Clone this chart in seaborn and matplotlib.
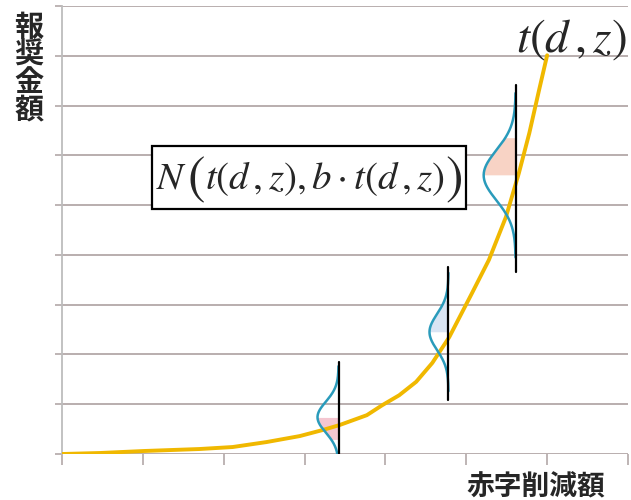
import numpy as np
import pandas as pd
import matplotlib.pyplot as plt
import seaborn as sns
from matplotlib.offsetbox import TextArea, HPacker, AnnotationBbox

# Curve t(d, z)
curve_x = [0.0, 0.47, 1.01, 1.70, 2.11, 2.53, 2.94, 3.22, 3.43, 3.77, 3.96, 4.17,
           4.38, 4.58, 4.79, 5.07, 5.28, 5.49, 5.65, 5.78, 5.90, 6.0]
curve_y = [0.0, 0.02, 0.06, 0.10, 0.14, 0.24, 0.36, 0.48, 0.58, 0.78, 0.98, 1.18,
           1.45, 1.83, 2.35, 3.23, 3.90, 4.76, 5.64, 6.45, 7.31, 8.01]

# Three normal distributions drawn sideways
dist_x = [3.42, 4.78, 5.61]
dist_mean = [0.74, 2.45, 5.6]
dist_sigma = [0.31, 0.36, 0.5]
dist_width = [0.26, 0.235, 0.395]
line_lo = [-0.38, 1.08, 3.65]
line_hi = [1.85, 3.76, 7.41]
fill_lo = [0.29, 2.45, 5.6]
fill_hi = [0.74, 3.09, 6.36]
fill_colors = ['#f4c6d0', '#d9e4f3', '#f8d3c5']

x_ticks = list(range(0, 8))
y_ticks = list(range(0, 10))

sns.set_style('white')
plt.rcParams['font.family'] = ['Noto Sans CJK JP', 'DejaVu Sans']
plt.rcParams['mathtext.fontset'] = 'stix'

fig = plt.figure(figsize=(6.31, 5.0), dpi=100)
ax = fig.add_axes([62 / 631, 46 / 500, 566 / 631, 448 / 500])

grid_c = '#b3a8a8'
for yv in y_ticks:
    ax.axhline(yv, color=grid_c, lw=1.3, zorder=0)

curve = pd.DataFrame({'x': curve_x, 'y': curve_y})
sns.lineplot(data=curve, x='x', y='y', color='#f0b800', lw=2.8, ax=ax, zorder=3)

for i in range(len(dist_x)):
    ys = np.linspace(dist_mean[i] - 3.3 * dist_sigma[i], dist_mean[i] + 3.3 * dist_sigma[i], 200)
    xs = dist_x[i] - dist_width[i] * np.exp(-0.5 * ((ys - dist_mean[i]) / dist_sigma[i]) ** 2)
    m = (ys >= fill_lo[i]) & (ys <= fill_hi[i])
    ax.fill_betweenx(ys[m], xs[m], dist_x[i], color=fill_colors[i], lw=0, zorder=2)
    ax.plot(xs, ys, color='#2a9bbb', lw=1.8, zorder=4)
    ax.plot([dist_x[i], dist_x[i]], [line_lo[i], line_hi[i]], color='black', lw=1.6, zorder=5)

ax.set_xlim(0, 7)
ax.set_ylim(0, 9)
ax.set_xticks(x_ticks)
ax.set_yticks(y_ticks)
ax.set_xticklabels([])
ax.set_yticklabels([])
ax.tick_params(axis='x', direction='out', length=8, width=1.2, color=grid_c, bottom=True)
ax.tick_params(axis='y', direction='out', length=5, width=1.2, color=grid_c, left=True)
ax.set_xlabel('')
ax.set_ylabel('')
for s in ['top', 'right', 'bottom']:
    ax.spines[s].set_visible(False)
ax.spines['left'].set_color('#bdbdbd')
ax.spines['left'].set_linewidth(1.3)

ax.text(6.99, 8.35, r'$t(d\,,z)$', fontsize=34, ha='right', va='center', zorder=6)

# boxed formula with enlarged outer parentheses
parts = [(r'$N$', 28), (r'$($', 38), (r'$t(d\,,z),b\cdot t(d\,,z)$', 28), (r'$)$', 38)]
pack = HPacker(children=[TextArea(s, textprops=dict(fontsize=fs)) for s, fs in parts],
               align='center', pad=0, sep=0)
ab = AnnotationBbox(pack, (3.05, 5.55), xycoords='data', frameon=True, pad=0.15,
                    bboxprops=dict(boxstyle='square', fc='white', ec='black', lw=1.6),
                    zorder=6)
ax.add_artist(ab)

fig.text(29 / 631, 1 - 68 / 500, '\n'.join('報奨金額'), fontsize=21, fontweight='bold',
         ha='center', va='center', linespacing=0.9)
fig.text(536 / 631, 1 - 487 / 500, '赤字削減額', fontsize=20, fontweight='bold',
         ha='center', va='center')

fig.savefig('out.png', dpi=100)
